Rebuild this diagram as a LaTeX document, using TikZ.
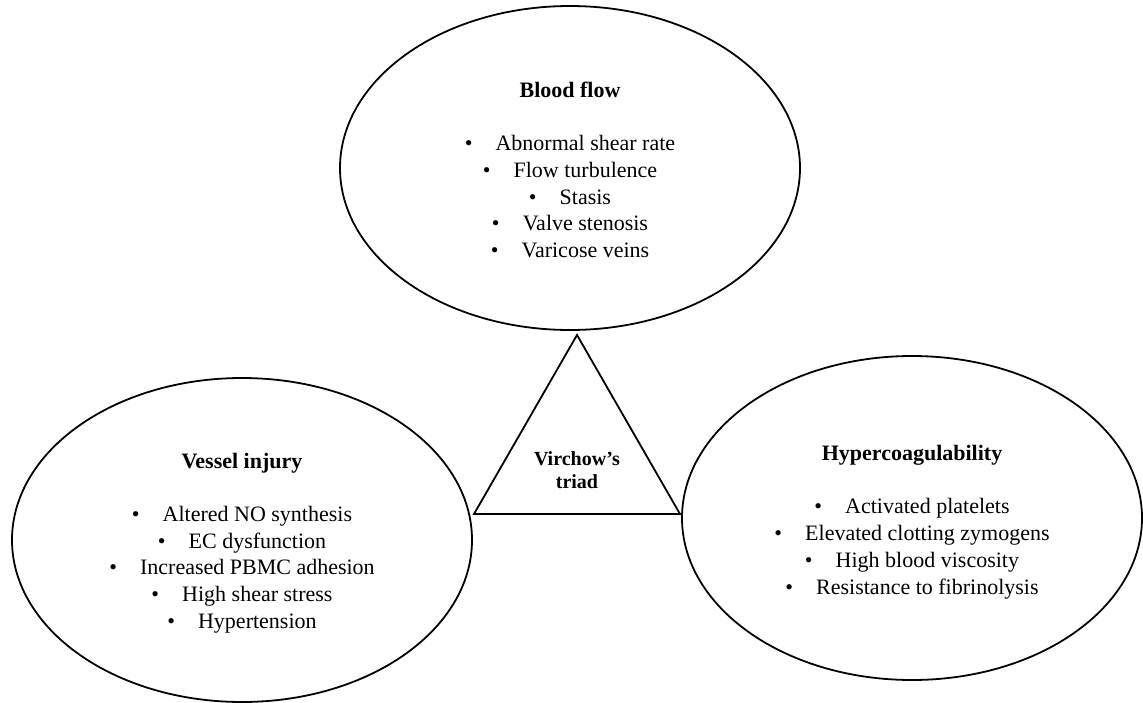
\documentclass[tikz,border=0pt]{standalone}
\usepackage{fontspec}
\setmainfont{Liberation Serif}
\usetikzlibrary{shapes.geometric}
\tikzset{
  factor/.style={ellipse,draw,line width=1.8pt,minimum width=460pt,minimum height=324pt,inner sep=0pt},
  list/.style={align=center,font=\fontsize{22}{26.7}\selectfont},
  triad/.style={align=center,font=\fontsize{20}{23}\selectfont\bfseries},
}
\newcommand{\itm}[1]{\textbullet\hspace{1.05em}#1}
\newcommand{\hd}[1]{\textbf{#1}\\[26.7pt]}
\begin{document}
\begin{tikzpicture}[x=1pt,y=-1pt]
\useasboundingbox(0,0)rectangle(1143,702);
% the three factors
\node[factor](flow)at(570,168){};
\node[factor](vessel)at(242,540){};
\node[factor](coag)at(912,518){};
\node[list,yshift=-2pt](flowlist)at(flow){\hd{Blood flow}\itm{Abnormal shear rate}\\\itm{Flow turbulence}\\
  \itm{Stasis}\\\itm{Valve stenosis}\\\itm{Varicose veins}};
\node[list,yshift=-3pt](vessellist)at(vessel){\hd{Vessel injury}\itm{Altered NO synthesis}\\\itm{EC dysfunction}\\
  \itm{Increased PBMC adhesion}\\\itm{High shear stress}\\\itm{Hypertension}};
\node[list,yshift=-4pt](coaglist)at(coag){\hd{Hypercoagulability}\itm{Activated platelets}\\
  \itm{Elevated clotting zymogens}\\\itm{High blood viscosity}\\\itm{Resistance to fibrinolysis}};
% triangle
\coordinate(top)at(577,335);
\coordinate(right)at(680,514);
\coordinate(left)at(474,514);
\draw[line width=1.8pt,line join=miter](top)--(right)--(left)--cycle;
\node[triad](virchow)at(577,470){Virchow's\\triad};
\end{tikzpicture}
\end{document}
